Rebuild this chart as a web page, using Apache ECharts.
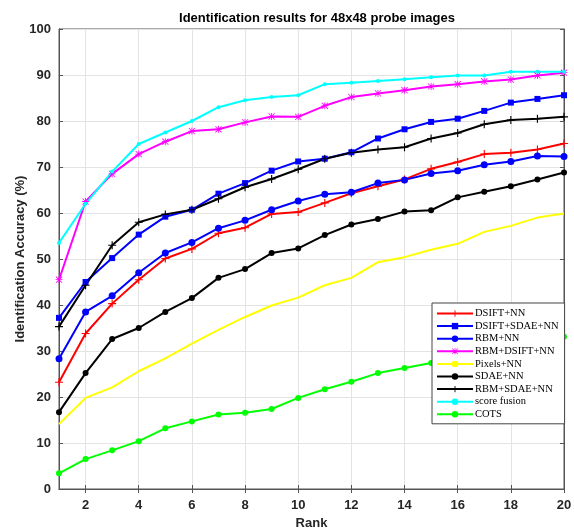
<!DOCTYPE html>
<html lang="en">
<head>
  <meta charset="UTF-8">
  <title>Identification results</title>
  <script src="https://cdn.jsdelivr.net/npm/echarts@6/dist/echarts.min.js"></script>
</head>
<style>
  html, body { margin: 0; padding: 0; background: #fff; }
  #main { width: 574px; height: 529px; }
</style>
<body>
<div id="main"></div>
<script>
  // x axis categories (rank)
  const ranks = ['1','2','3','4','5','6','7','8','9','10','11','12','13','14','15','16','17','18','19','20']

  // accuracy values (%)
  const dsiftNN     = [23.2, 33.8, 40.3, 45.5, 50.1, 52.2, 55.6, 56.8, 59.8, 60.2, 62.2, 64.3, 65.8, 67.3, 69.6, 71.1, 72.8, 73.1, 73.8, 75.1]
  const dsiftSdaeNN = [37.2, 45.0, 50.2, 55.3, 59.2, 60.7, 64.2, 66.5, 69.2, 71.2, 71.8, 73.2, 76.2, 78.2, 79.8, 80.5, 82.2, 84.0, 84.8, 85.6]
  const rbmNN       = [28.3, 38.5, 42.0, 47.0, 51.3, 53.6, 56.7, 58.4, 60.7, 62.6, 64.1, 64.5, 66.5, 67.2, 68.6, 69.2, 70.5, 71.2, 72.4, 72.3]
  const rbmDsiftNN  = [45.5, 62.5, 68.5, 72.8, 75.5, 77.8, 78.2, 79.7, 81.0, 80.9, 83.3, 85.2, 86.0, 86.7, 87.5, 88.0, 88.6, 89.0, 89.9, 90.5]
  const pixelsNN    = [14.1, 19.8, 22.1, 25.6, 28.4, 31.6, 34.6, 37.4, 39.9, 41.6, 44.3, 45.9, 49.3, 50.4, 52.0, 53.3, 55.9, 57.2, 59.0, 59.9]
  const sdaeNN      = [16.7, 25.2, 32.6, 35.0, 38.5, 41.5, 45.9, 47.8, 51.3, 52.3, 55.2, 57.5, 58.7, 60.3, 60.6, 63.4, 64.6, 65.8, 67.3, 68.8]
  const rbmSdaeNN   = [35.3, 44.3, 53.0, 58.0, 59.7, 60.7, 63.1, 65.6, 67.4, 69.5, 71.8, 73.1, 73.8, 74.3, 76.2, 77.4, 79.3, 80.2, 80.5, 80.9]
  const scoreFusion = [53.5, 62.0, 69.0, 75.0, 77.5, 80.0, 83.0, 84.5, 85.2, 85.6, 88.0, 88.3, 88.7, 89.1, 89.5, 89.9, 89.9, 90.7, 90.7, 90.7]
  const cots        = [3.4, 6.5, 8.4, 10.4, 13.2, 14.7, 16.2, 16.6, 17.4, 19.8, 21.7, 23.3, 25.2, 26.3, 27.4, 28.5, 29.5, 30.5, 31.7, 33.1]

  const plus = 'path://M4.3,0H5.7V10H4.3Z M0,4.3H10V5.7H0Z'
  const star = 'path://M4.4,0H5.6V10H4.4Z M0,4.4H10V5.6H0Z M1,0.2L9.8,9L9,9.8L0.2,1Z M9,0.2L9.8,1L1,9.8L0.2,9Z'

  const bold = { fontFamily: 'Liberation Sans', fontWeight: 'bold', fontSize: 13, color: '#262626' }
  const evenOnly = (i) => (i + 1) % 2 === 0

  function line(name, data, color, symbol, size) {
    return {
      name: name,
      type: 'line',
      data: data,
      symbol: symbol,
      symbolSize: size,
      showSymbol: symbol !== 'none',
      lineStyle: { color: color, width: 2 },
      itemStyle: { color: color },
      emphasis: { disabled: true },
      animation: false
    }
  }

  const chart = echarts.init(document.getElementById('main'))
  chart.setOption({
    backgroundColor: '#fff',
    title: {
      text: 'Identification results for 48x48 probe images',
      left: 312, top: 7, textAlign: 'center',
      textStyle: { fontFamily: 'Liberation Sans', fontWeight: 'bold', fontSize: 13, color: '#000' }
    },
    grid: {
      left: 59, right: 10, top: 29, bottom: 40,
      outerBoundsMode: 'none',
      show: true, borderColor: '#555', borderWidth: 1
    },
    legend: {
      orient: 'vertical',
      left: 432, top: 303,
      itemWidth: 36, itemHeight: 8, itemGap: 1.6,
      padding: [5, 6, 4, 4],
      backgroundColor: '#fff',
      borderColor: '#444', borderWidth: 1,
      textStyle: { fontFamily: 'Liberation Serif', fontSize: 10.5, color: '#000', padding: [0, 0, 0, -3] },
      data: ['DSIFT+NN', 'DSIFT+SDAE+NN', 'RBM+NN', 'RBM+DSIFT+NN', 'Pixels+NN', 'SDAE+NN', 'RBM+SDAE+NN', 'score fusion', 'COTS']
    },
    xAxis: [{
      type: 'category',
      data: ranks,
      boundaryGap: false,
      name: 'Rank',
      nameLocation: 'middle',
      nameGap: 25,
      nameTextStyle: bold,
      axisLine: { lineStyle: { color: '#555' } },
      axisTick: { inside: true, length: 4, interval: (i) => evenOnly(i), lineStyle: { color: '#555' } },
      axisLabel: { interval: (i) => evenOnly(i), margin: 10, ...bold },
      splitLine: { show: true, interval: (i) => evenOnly(i), lineStyle: { color: '#e3e3e3' } }
    }, {
      type: 'category',
      data: ranks,
      boundaryGap: false,
      position: 'top',
      axisLine: { lineStyle: { color: '#555' } },
      axisTick: { inside: true, length: 4, interval: (i) => evenOnly(i), lineStyle: { color: '#555' } },
      axisLabel: { show: false }
    }],
    yAxis: [{
      type: 'value',
      min: 0, max: 100, interval: 10,
      name: 'Identification Accuracy (%)',
      nameLocation: 'middle',
      nameGap: 32,
      nameMoveOverlap: false,
      nameTextStyle: bold,
      axisLine: { show: true, lineStyle: { color: '#555' } },
      axisTick: { show: true, inside: true, length: 4, lineStyle: { color: '#555' } },
      axisLabel: { margin: 8, ...bold },
      splitLine: { show: true, lineStyle: { color: '#e3e3e3' } }
    }, {
      type: 'value',
      min: 0, max: 100, interval: 10,
      position: 'right',
      axisLine: { show: true, lineStyle: { color: '#555' } },
      axisTick: { show: true, inside: true, length: 4, lineStyle: { color: '#555' } },
      axisLabel: { show: false },
      splitLine: { show: false }
    }],
    series: [
      line('DSIFT+NN', dsiftNN, '#ff0000', plus, 8),
      line('DSIFT+SDAE+NN', dsiftSdaeNN, '#0000ff', 'rect', 6),
      line('RBM+NN', rbmNN, '#0000ff', 'circle', 7),
      line('RBM+DSIFT+NN', rbmDsiftNN, '#ff00ff', star, 7),
      line('Pixels+NN', pixelsNN, '#ffff00', 'none', 0),
      line('SDAE+NN', sdaeNN, '#000000', 'circle', 6),
      line('RBM+SDAE+NN', rbmSdaeNN, '#000000', plus, 8),
      line('score fusion', scoreFusion, '#00ffff', 'circle', 4),
      line('COTS', cots, '#00ff00', 'circle', 6)
    ]
  })
</script>
</body>
</html>
